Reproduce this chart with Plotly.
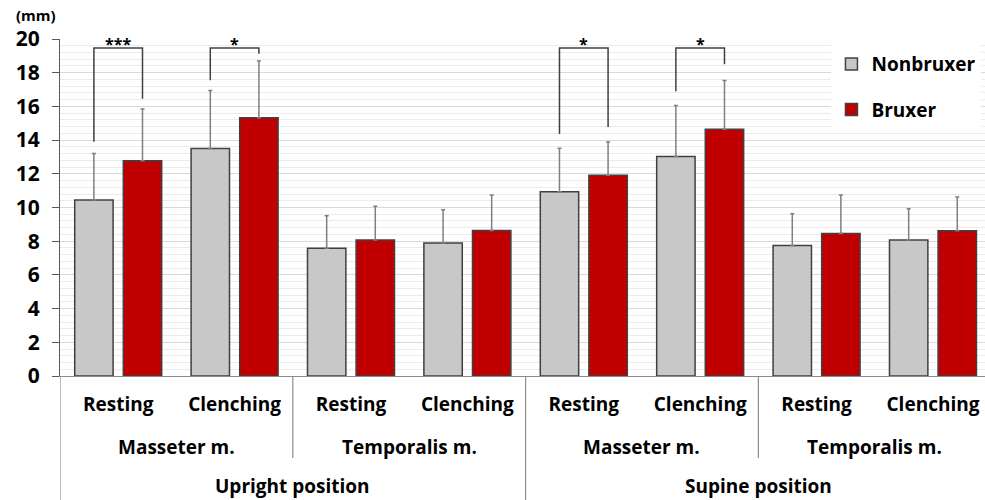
import plotly.graph_objects as go

# ---- data ----
conditions = ["Resting", "Clenching"] * 4
muscles = ["Masseter m.", "Temporalis m.", "Masseter m.", "Temporalis m."]
positions = ["Upright position", "Supine position"]

nonbruxer = [10.45, 13.5, 7.58, 7.89, 10.94, 13.02, 7.75, 8.07]
nonbruxer_sd = [2.75, 3.45, 1.93, 1.98, 2.57, 3.04, 1.88, 1.86]
bruxer = [12.78, 15.33, 8.07, 8.63, 11.91, 14.64, 8.45, 8.62]
bruxer_sd = [3.07, 3.37, 2.0, 2.11, 1.98, 2.89, 2.29, 2.0]

# significance brackets: group index, left leg bottom, right leg bottom, label
sig_groups = [0, 1, 4, 5]
sig_left = [13.9, 17.55, 14.36, 16.9]
sig_right = [16.46, 19.13, 14.78, 18.5]
sig_top = [19.47, 19.47, 19.47, 19.47]
sig_labels = ["***", "*", "*", "*"]

# ---- style ----
FONT = "Open Sans"
GRAY = "#c8c8c8"
RED = "#c00000"
EDGE = "#404040"
ERR = "#7f7f7f"

bargap = 0.165
slot = (1 - bargap) / 2

x = list(range(len(conditions)))

fig = go.Figure()
fig.add_trace(go.Bar(
    x=x, y=nonbruxer, name="Nonbruxer", legendgroup="a",
    marker=dict(color=GRAY, line=dict(color=EDGE, width=1.5)),
    error_y=dict(type="data", array=nonbruxer_sd, arrayminus=[0] * 8,
                 symmetric=False, color=ERR, thickness=1.5, width=2),
))
fig.add_trace(go.Bar(
    x=x, y=bruxer, name="Bruxer", legendgroup="b",
    marker=dict(color=RED, line=dict(color=EDGE, width=1.5)),
    error_y=dict(type="data", array=bruxer_sd, arrayminus=[0] * 8,
                 symmetric=False, color=ERR, thickness=1.5, width=2),
))

shapes = []
annotations = []
for g, yl, yr, yt, lab in zip(sig_groups, sig_left, sig_right, sig_top, sig_labels):
    xl = g - slot / 2
    xr = g + slot / 2
    shapes.append(dict(type="path", xref="x", yref="y",
                       path=f"M {xl} {yl} L {xl} {yt} L {xr} {yt} L {xr} {yr}",
                       line=dict(color=EDGE, width=1.5)))
    annotations.append(dict(x=g, y=yt, xref="x", yref="y", text=lab,
                            showarrow=False, yanchor="bottom", yshift=-9,
                            font=dict(family=FONT, size=16, color="#000", weight="bold")))

# category separators
for xs, ybot in [(-0.5, -0.368), (1.5, -0.243), (3.5, -0.368), (5.5, -0.243)]:
    shapes.append(dict(type="line", xref="x", yref="paper", x0=xs, x1=xs,
                       y0=0, y1=ybot, line=dict(color="#8c8c8c", width=1.2)))

for i, m in enumerate(muscles):
    annotations.append(dict(x=2 * i + 0.5, y=-0.21, xref="x", yref="paper", text=m,
                            showarrow=False, yanchor="middle",
                            font=dict(family=FONT, size=19, color="#000", weight="bold")))
for i, p in enumerate(positions):
    annotations.append(dict(x=4 * i + 1.5, y=-0.327, xref="x", yref="paper", text=p,
                            showarrow=False, yanchor="middle",
                            font=dict(family=FONT, size=19, color="#000", weight="bold")))

annotations.append(dict(x=-0.05, y=1.07, xref="paper", yref="paper", text="(mm)",
                        showarrow=False, xanchor="left", yanchor="middle",
                        font=dict(family=FONT, size=15, color="#000", weight="bold")))

fig.update_layout(
    width=985, height=500,
    margin=dict(l=60, r=0, t=39, b=124),
    paper_bgcolor="white", plot_bgcolor="white",
    barmode="group", bargap=bargap, bargroupgap=0.21,
    font=dict(family=FONT, color="#000"),
    shapes=shapes, annotations=annotations,
    legend=dict(x=0.834, y=0.982, xanchor="left", yanchor="top",
                bgcolor="white", tracegroupgap=18,
                font=dict(family=FONT, size=19, color="#000", weight="bold")),
    xaxis=dict(range=[-0.5, 7.447], tickmode="array", tickvals=x, ticktext=conditions,
               showgrid=False, zeroline=False, showline=True, linecolor="#8c8c8c",
               linewidth=1.2, ticks="", ticklabelstandoff=11,
               tickfont=dict(family=FONT, size=19, color="#000", weight="bold")),
    yaxis=dict(range=[0, 20], dtick=2, showgrid=True, gridcolor="#d9d9d9", gridwidth=1,
               minor=dict(dtick=0.4, showgrid=True, gridcolor="#ebebeb", gridwidth=1),
               zeroline=False, showline=True, linecolor="#595959", linewidth=1.2,
               ticks="outside", ticklen=7, tickcolor="#595959", ticklabelstandoff=8,
               tickfont=dict(family=FONT, size=21, color="#000", weight="bold")),
)

fig.write_html("out.html", config={"displayModeBar": False},
               post_script="document.body.style.margin='0px';")
